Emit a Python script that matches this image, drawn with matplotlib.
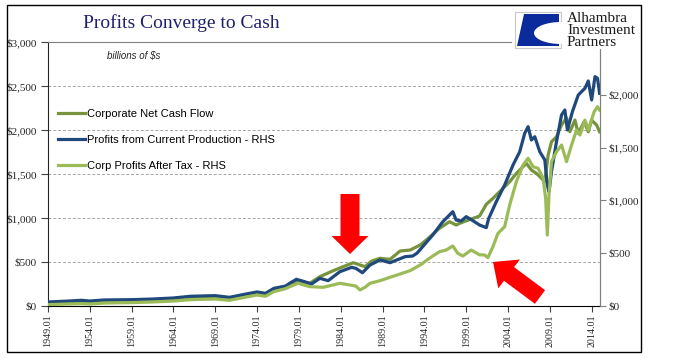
import matplotlib
matplotlib.use("Agg")
import matplotlib.pyplot as plt
from matplotlib.patches import Rectangle, Polygon, Ellipse, FancyArrow
from matplotlib.ticker import FuncFormatter

# Corporate Net Cash Flow (left axis, billions $)
ncf_years = [1949.0, 1951.5, 1953.0, 1954.0, 1955.7, 1959.0, 1961.5, 1964.0, 1966.0, 1969.0,
             1970.7, 1972.7, 1974.0, 1975.0, 1976.0, 1977.4, 1977.9, 1978.7, 1980.3, 1981.5,
             1983.1, 1984.3, 1985.5, 1986.3, 1986.9, 1987.7, 1988.7, 1989.9, 1991.1, 1992.3,
             1993.5, 1994.6, 1995.8, 1997.0, 1997.8, 1998.2, 1999.2, 2000.6, 2001.4, 2002.2,
             2003.2, 2004.2, 2005.0, 2005.6, 2006.2, 2006.8, 2007.4, 2008.0, 2008.4, 2008.8,
             2009.2, 2009.8, 2010.4, 2011.0, 2011.4, 2012.0, 2012.4, 2013.1, 2013.6, 2014.0,
             2014.6, 2014.95]
ncf = [27, 34, 38, 34, 45, 49, 57, 68, 83, 91,
       76, 114, 136, 121, 174, 208, 239, 276, 258, 333,
       401, 447, 492, 466, 447, 511, 542, 530, 625, 636,
       693, 780, 883, 958, 920, 939, 975, 1022, 1155, 1223,
       1318, 1412, 1507, 1564, 1621, 1545, 1507, 1451, 1412, 1715,
       1866, 1923, 2056, 2139, 1980, 2113, 1962, 2094, 1980, 2113,
       2056, 1980]

# Profits from Current Production (right axis)
pcp_years = [1949.0, 1951.5, 1953.0, 1954.0, 1955.7, 1959.0, 1961.5, 1964.0, 1966.0, 1969.0,
             1970.7, 1972.7, 1974.0, 1975.0, 1976.0, 1977.4, 1977.9, 1978.7, 1979.7, 1980.5,
             1981.5, 1982.5, 1983.9, 1985.3, 1985.8, 1986.6, 1987.5, 1988.7, 1989.9, 1990.7,
             1991.7, 1992.6, 1993.1, 1993.8, 1995.0, 1996.2, 1997.4, 1997.8, 1998.4, 1999.0,
             1999.8, 2000.6, 2001.4, 2001.7, 2002.6, 2003.6, 2004.6, 2005.4, 2006.0, 2006.4,
             2006.8, 2007.2, 2007.8, 2008.4, 2008.7, 2008.9, 2009.2, 2009.8, 2010.4, 2010.8,
             2011.1, 2011.7, 2012.4, 2013.2, 2013.6, 2014.0, 2014.4, 2014.7, 2014.95]
pcp = [38, 47, 54, 47, 57, 60, 66, 76, 92, 98,
       82, 114, 133, 120, 167, 189, 215, 253, 230, 208,
       262, 240, 325, 366, 357, 315, 388, 436, 410, 436,
       467, 473, 499, 562, 672, 798, 893, 814, 805, 846,
       808, 767, 742, 830, 988, 1146, 1335, 1461, 1636, 1698,
       1572, 1603, 1461, 1383, 1146, 1082, 1272, 1556, 1809, 1856,
       1667, 1840, 1998, 2062, 2131, 1951, 2172, 2156, 2014]

# Corp Profits After Tax (right axis)
pat_years = [1949.0, 1951.5, 1953.0, 1954.0, 1955.7, 1959.0, 1961.5, 1964.0, 1966.0, 1969.0,
             1970.7, 1972.7, 1974.0, 1975.0, 1976.0, 1977.4, 1977.9, 1978.9, 1980.3, 1981.9,
             1983.9, 1985.1, 1985.8, 1986.3, 1986.9, 1987.5, 1988.7, 1989.9, 1991.1, 1992.3,
             1993.5, 1994.6, 1995.8, 1996.6, 1997.4, 1998.0, 1998.6, 1999.6, 2000.6, 2001.2,
             2001.6, 2002.2, 2002.8, 2003.6, 2004.2, 2005.0, 2005.8, 2006.4, 2007.0, 2007.6,
             2008.2, 2008.5, 2008.7, 2008.9, 2009.2, 2009.8, 2010.4, 2011.0, 2011.6, 2012.2,
             2012.6, 2013.2, 2013.6, 2014.3, 2014.7, 2014.95]
pat = [13, 19, 22, 19, 28, 32, 38, 47, 60, 66,
       54, 85, 104, 92, 136, 164, 183, 215, 183, 177,
       215, 199, 189, 152, 177, 215, 240, 272, 303, 335,
       388, 452, 514, 530, 568, 499, 473, 530, 485, 483,
       458, 562, 688, 751, 956, 1177, 1335, 1399, 1319, 1304,
       1209, 1020, 672, 1051, 1367, 1461, 1525, 1367, 1525, 1667,
       1619, 1761, 1667, 1840, 1887, 1856]

tick_years = list(range(1949, 2015, 5))
tick_labels = ["%d.01" % y for y in tick_years]
left_ticks = [0, 500, 1000, 1500, 2000, 2500, 3000]
right_ticks = [0, 500, 1000, 1500, 2000]

C_NCF = "#77933C"
C_PCP = "#1F497D"
C_PAT = "#9BBB59"

W, H = 675, 358
fig = plt.figure(figsize=(W / 100, H / 100), dpi=100)
fig.patch.set_facecolor("white")

ax = fig.add_axes([48 / W, 1 - 306 / H, (600 - 48) / W, (306 - 42) / H])
ax2 = ax.twinx()

dollars = FuncFormatter(lambda v, p: "$%s" % format(int(v), ","))

l1, = ax.plot(ncf_years, ncf, color=C_NCF, lw=2.3, solid_joinstyle="round")
l2, = ax2.plot(pcp_years, pcp, color=C_PCP, lw=2.3, solid_joinstyle="round")
l3, = ax2.plot(pat_years, pat, color=C_PAT, lw=2.3, solid_joinstyle="round")

ax.set_xlim(1949, 2015)
ax.set_ylim(0, 3000)
ax2.set_ylim(0, 2500)

ax.set_yticks(left_ticks)
ax.yaxis.set_major_formatter(dollars)
ax2.set_yticks(right_ticks)
ax2.yaxis.set_major_formatter(dollars)
ax.set_xticks(tick_years)
ax.set_xticklabels(tick_labels, rotation=90)

ax.grid(axis="y", color="#A6A6A6", linestyle=(0, (3, 2)), linewidth=0.7)
ax.set_axisbelow(True)

serif = "Liberation Serif"
for lab in ax.get_yticklabels() + ax2.get_yticklabels():
    lab.set_fontfamily(serif)
    lab.set_fontsize(8)
    lab.set_color("#262626")
for lab in ax.get_xticklabels():
    lab.set_fontfamily(serif)
    lab.set_fontsize(7.2)
    lab.set_color("#262626")

ax.tick_params(axis="y", length=5, width=0.8, color="#404040", pad=3)
ax.tick_params(axis="x", length=4, width=0.8, color="#404040", pad=2)
ax2.tick_params(axis="y", length=4, width=0.8, color="#808080", pad=2)

for s in ["top", "right"]:
    ax.spines[s].set_color("#808080")
ax.spines["left"].set_color("#262626")
ax.spines["bottom"].set_color("#000000")
for s in ["top", "left", "bottom"]:
    ax2.spines[s].set_visible(False)
ax2.spines["right"].set_color("#808080")

leg = ax2.legend([l1, l2, l3],
                 ["Corporate Net Cash Flow", "Profits from Current Production - RHS",
                  "Corp Profits After Tax - RHS"],
                 loc="upper left", bbox_to_anchor=(58 / W, 1 - 109 / H),
                 bbox_transform=fig.transFigure, frameon=False,
                 prop={"family": "Liberation Sans", "size": 8},
                 handlelength=2.4, handletextpad=0.25, labelspacing=1.45,
                 borderpad=0, borderaxespad=0)

# overlay in pixel coordinates for title, border, logo and arrows
ov = fig.add_axes([0, 0, 1, 1])
ov.set_xlim(0, W)
ov.set_ylim(H, 0)
ov.axis("off")
ov.patch.set_alpha(0)

ov.add_patch(Rectangle((7, 5), 634, 347, fill=False, edgecolor="black", lw=1))
ov.text(181, 23, "Profits Converge to Cash", family=serif, fontsize=14,
        color="#1F1F6E", ha="center", va="center")
ov.text(134, 56, "billions of $s", family="Liberation Sans", style="italic",
        fontsize=7, color="#262626", ha="center", va="center")

# logo
ov.add_patch(Rectangle((512, 8), 128, 41, facecolor="white", edgecolor="none", zorder=3))
ov.add_patch(Rectangle((515, 12), 46, 36, facecolor="white", edgecolor="#C8C8C8", lw=0.8, zorder=4))
ov.add_patch(Polygon([(524, 14), (559, 14), (559, 46), (517, 46)], closed=True,
                     facecolor="#0B2A9C", edgecolor="none", zorder=5))
ov.add_patch(Ellipse((561, 33), 54, 22, facecolor="white", edgecolor="none", zorder=6))
for txt, yy in [("Alhambra", 18), ("Investment", 31), ("Partners", 43)]:
    ov.text(567, yy, txt, family=serif, fontsize=11, color="#1A1A1A",
            ha="left", va="center", zorder=7)

# red arrows
ov.add_patch(FancyArrow(350, 194, 0, 60, width=19, head_width=37, head_length=18,
                        length_includes_head=True, color="#FF0000", lw=0, zorder=8))
ov.add_patch(FancyArrow(540, 297, -47, -35, width=17, head_width=36, head_length=20,
                        length_includes_head=True, color="#FF0000", lw=0, zorder=8))

fig.savefig("out.png", dpi=100)
